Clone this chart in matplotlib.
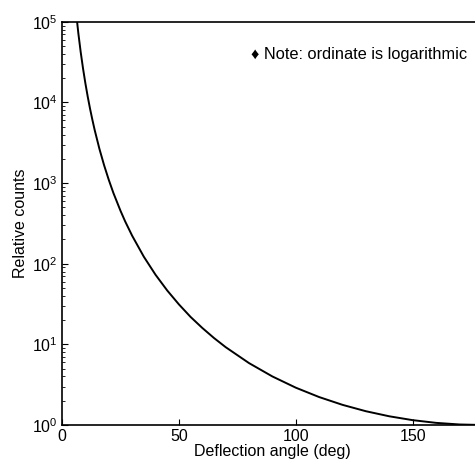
import matplotlib
matplotlib.use("Agg")
import matplotlib.pyplot as plt
from matplotlib.ticker import LogLocator, FixedLocator

plt.rcParams['font.family'] = ['Liberation Sans', 'DejaVu Sans']
plt.rcParams['mathtext.fontset'] = 'custom'
plt.rcParams['mathtext.rm'] = 'Liberation Sans'
plt.rcParams['mathtext.it'] = 'Liberation Sans:italic'
plt.rcParams['mathtext.bf'] = 'Liberation Sans:bold'

# Deflection angle (deg) and relative counts
angles = [6, 7, 8, 9, 10, 11, 12, 13, 14, 16, 18, 20, 22, 25, 27, 30, 35, 40, 45,
          50, 55, 60, 65, 70, 80, 90, 100, 110, 120, 130, 140, 150, 160, 170, 180]
counts = [133280, 71994, 42235, 26390, 17331, 11845, 8377, 6096, 4533, 2666, 1670,
          1100, 753, 455.7, 336, 222.9, 122.3, 73.08, 46.63,
          31.35, 21.9, 16.0, 12.0, 9.239, 5.858, 4.0, 2.904, 2.221, 1.778, 1.482,
          1.2825, 1.1487, 1.0632, 1.0154, 1.0]

x_ticks = [0, 50, 100, 150]
x_label = "Deflection angle (deg)"
y_label = "Relative counts"
note = "\u2666 Note: ordinate is logarithmic"

fig = plt.figure(figsize=(4.75, 4.65), dpi=100)
ax = fig.add_axes([0.1305, 0.086, 0.886, 0.867])
ax.plot(angles, counts, color='black', lw=1.4)
ax.set_yscale('log')
ax.set_xlim(0, 180)
ax.set_ylim(1, 1e5)
ax.xaxis.set_major_locator(FixedLocator(x_ticks))
ax.yaxis.set_major_locator(LogLocator(base=10, numticks=10))
ax.yaxis.set_minor_locator(LogLocator(base=10, subs=range(2, 10), numticks=10))
ax.tick_params(axis='both', which='major', direction='in', length=4, width=0.8,
               labelsize=11.5, colors='black', pad=3)
ax.tick_params(axis='y', which='minor', direction='in', length=2, width=0.6)
ax.set_xlabel(x_label, fontsize=11.5, labelpad=0)
ax.set_ylabel(y_label, fontsize=11.5, labelpad=3)
for s in ['left', 'bottom', 'top']:
    ax.spines[s].set_linewidth(1.2)
ax.spines['right'].set_visible(False)
ax.text(0.45, 0.918, note, transform=ax.transAxes, fontsize=11.8, va='center', ha='left')

fig.savefig("out.png", dpi=100)
